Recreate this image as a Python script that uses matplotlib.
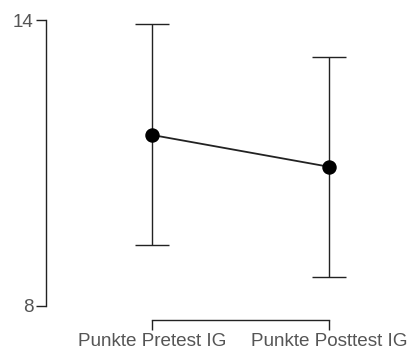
import matplotlib.pyplot as plt

# Werte
labels = ["Punkte Pretest IG", "Punkte Posttest IG"]
means = [11.59, 10.92]
ci_low = [9.27, 8.60]
ci_high = [13.92, 13.24]
yticks = [8, 14]

plt.rcParams['font.family'] = ['Liberation Sans', 'DejaVu Sans']

fig = plt.figure(figsize=(4.09, 3.51), dpi=100)
ax = fig.add_axes([46 / 409, 31 / 351, 354 / 409, 310 / 351])

x = list(range(len(labels)))
err = [[m - lo for m, lo in zip(means, ci_low)],
       [hi - m for m, hi in zip(means, ci_high)]]

ax.errorbar(x, means, yerr=err, fmt='none', ecolor='#222222',
            elinewidth=1.0, capsize=12.5, capthick=1.0)
ax.plot(x, means, color='#222222', lw=1.3, marker='o', markersize=9.4,
        markerfacecolor='black', markeredgecolor='black', zorder=3)

ax.set_xlim(-0.599, 1.401)
ax.set_ylim(7.695, 14.22)

ax.set_xticks(x)
ax.set_xticklabels(labels)
ax.set_yticks(yticks)

for s in ['top', 'right']:
    ax.spines[s].set_visible(False)
ax.spines['left'].set_bounds(8, 14)
ax.spines['bottom'].set_bounds(0, 1)
for s in ['left', 'bottom']:
    ax.spines[s].set_color('#222222')
    ax.spines[s].set_linewidth(1.0)

ax.tick_params(axis='both', length=7, width=1.0, color='#222222',
               labelcolor='#555555', labelsize=13.6, pad=2)

fig.savefig('out.png', dpi=100)
